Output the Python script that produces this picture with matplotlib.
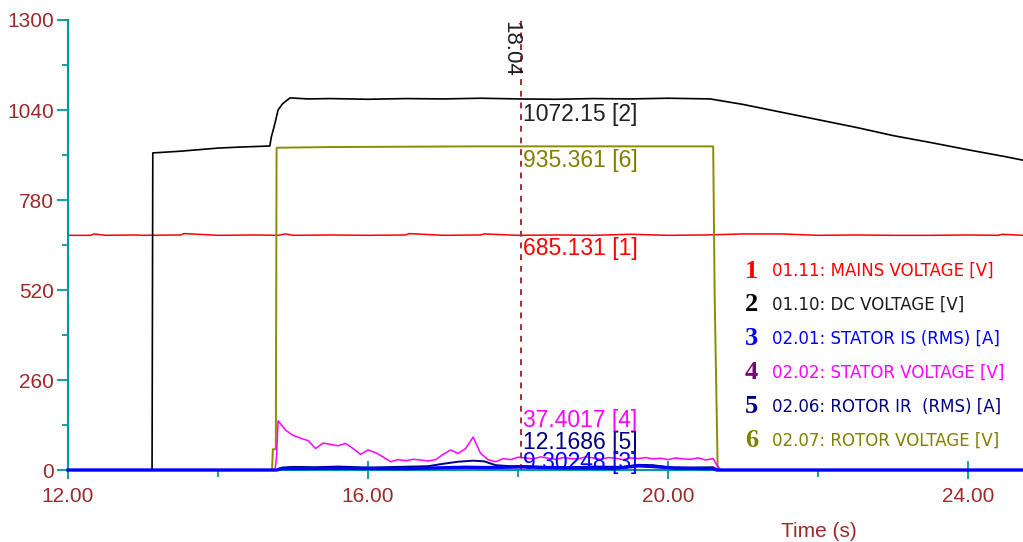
import matplotlib
matplotlib.use("Agg")
import matplotlib.pyplot as plt
from matplotlib.ticker import MultipleLocator, FormatStrFormatter

# 01.11 mains voltage [V]
mains_t = [12.0, 12.3, 12.35, 12.5, 12.9, 13.0, 13.5, 13.55, 14.0, 14.5, 14.8, 14.9,
           15.0, 15.5, 16.0, 16.5, 16.55, 17.0, 17.5, 17.55, 18.0, 18.5, 19.0, 19.5,
           20.0, 20.5, 21.0, 21.5, 22.0, 22.5, 23.0, 23.5, 24.0, 24.4, 24.45, 24.73]
mains_v = [678, 678, 682, 678, 679, 678, 679, 683, 678, 679, 678, 682,
           678, 679, 678, 679, 683, 678, 679, 682, 678, 679, 678, 681,
           678, 679, 682, 682, 678, 679, 678, 678, 679, 678, 681, 678]

# 01.10 DC voltage [V]
dc_t = [12.0, 13.12, 13.13, 13.5, 14.0, 14.3, 14.69, 14.71, 14.73, 14.76, 14.80, 14.86,
        14.96, 15.2, 15.5, 16.0, 16.5, 17.0, 17.5, 18.0, 18.5, 19.0, 19.5, 20.0,
        20.56, 21.0, 21.5, 22.0, 22.5, 23.0, 23.5, 24.0, 24.5, 24.73]
dc_v = [0, 0, 916, 921, 930, 933, 936, 962, 978, 1003, 1040, 1058,
        1075, 1072, 1073, 1071, 1073, 1072, 1074, 1072, 1071, 1073, 1072, 1074,
        1072, 1056, 1034, 1012, 990, 966, 946, 925, 905, 895]

# 02.01 stator IS (RMS) [A]
si_t = [12.0, 14.78, 14.85, 15.5, 16.5, 17.3, 17.6, 18.04, 18.6, 19.3, 19.6, 19.8,
        20.1, 20.6, 20.65, 24.73]
si_v = [0, 0, 4, 5, 4, 8, 7, 9, 6, 5, 12, 10, 5, 4, 0, 0]

# 02.02 stator voltage [V]
sv_t = [12.0, 14.76, 14.78, 14.8, 14.9, 15.0, 15.1, 15.2, 15.3, 15.4, 15.5, 15.6,
        15.7, 15.8, 15.9, 16.0, 16.1, 16.2, 16.3, 16.4, 16.5, 16.6, 16.7, 16.8,
        16.9, 17.0, 17.1, 17.2, 17.3, 17.4, 17.5, 17.6, 17.7, 17.8, 17.9, 18.0,
        18.1, 18.2, 18.3, 18.4, 18.5, 18.6, 18.7, 18.8, 18.9, 19.0, 19.1, 19.2,
        19.3, 19.4, 19.5, 19.6, 19.7, 19.8, 19.9, 20.0, 20.1, 20.2, 20.3, 20.4,
        20.5, 20.6, 20.65, 20.7, 24.73]
sv_v = [0, 0, 40, 142, 115, 100, 92, 85, 62, 78, 74, 70,
        77, 62, 45, 58, 50, 38, 24, 30, 27, 31, 29, 26,
        30, 45, 58, 48, 62, 95, 48, 30, 24, 33, 30, 37,
        35, 32, 38, 34, 31, 36, 33, 32, 38, 35, 31, 36,
        34, 30, 35, 33, 36, 32, 34, 30, 35, 32, 31, 35,
        29, 33, 14, 0, 0]

# 02.06 rotor IR (RMS) [A]
ri_t = [12.0, 14.78, 14.85, 15.0, 15.3, 15.6, 16.0, 16.4, 16.8, 17.0, 17.2, 17.4,
        17.55, 17.7, 17.9, 18.04, 18.3, 18.7, 19.0, 19.4, 19.6, 19.8, 20.0, 20.3,
        20.6, 20.65, 24.73]
ri_v = [0, 0, 7, 9, 8, 10, 7, 9, 11, 18, 24, 27,
        25, 14, 11, 12, 9, 8, 10, 9, 15, 14, 8, 7,
        8, 0, 0]

# 02.07 rotor voltage [V]
rv_t = [12.0, 14.72, 14.73, 14.77, 14.78, 15.5, 16.5, 17.5, 18.5, 19.5, 20.60, 20.62,
        20.66, 24.73]
rv_v = [0, 0, 60, 60, 931, 933, 934, 935, 935, 935, 935, 500, 0, 0]

legend_nums = ["1", "2", "3", "4", "5", "6"]
legend_text = ["01.11: MAINS VOLTAGE [V]", "01.10: DC VOLTAGE [V]",
               "02.01: STATOR IS (RMS) [A]", "02.02: STATOR VOLTAGE [V]",
               "02.06: ROTOR IR  (RMS) [A]", "02.07: ROTOR VOLTAGE [V]"]
num_colors = ["#ff0000", "#000000", "#0000ff", "#800080", "#000080", "#808000"]
txt_colors = ["#ff0000", "#1a1a1a", "#0000ff", "#ff00ff", "#000080", "#808000"]

cursor_t = 18.04
cursor_vals = ["1072.15 [2]", "935.361 [6]", "685.131 [1]",
               "37.4017 [4]", "12.1686 [5]", "9.30248 [3]"]

teal = "#009999"
dred = "#9b2a2a"

fig = plt.figure(figsize=(10.23, 5.42), dpi=100)
ax = fig.add_axes([0.0665, 0.1328, 0.9335, 0.8303])

ax.plot(mains_t, mains_v, color="#ff0000", lw=1.1)
ax.plot(dc_t, dc_v, color="#000000", lw=1.2)
ax.plot(rv_t, rv_v, color="#8c8c00", lw=1.4)
ax.plot(sv_t, sv_v, color="#ff00ff", lw=1.1)
ax.plot(ri_t, ri_v, color="#000080", lw=1.4)
ax.plot(si_t, si_v, color="#0000ff", lw=2.4, clip_on=False, zorder=5)

ax.axvline(cursor_t, color="#a03030", lw=1.4, ls=(0, (3, 3)))

ax.set_xlim(12, 24.73)
ax.set_ylim(0, 1300)

for s in ["top", "right"]:
    ax.spines[s].set_visible(False)
ax.spines["left"].set_color(teal)
ax.spines["bottom"].set_color(teal)
ax.spines["left"].set_linewidth(1.5)
ax.spines["bottom"].set_linewidth(1.5)

ax.xaxis.set_major_locator(MultipleLocator(4))
ax.xaxis.set_minor_locator(MultipleLocator(2))
ax.xaxis.set_major_formatter(FormatStrFormatter("%.2f"))
ax.yaxis.set_major_locator(MultipleLocator(260))
ax.yaxis.set_minor_locator(MultipleLocator(130))

ax.tick_params(axis="x", which="major", direction="inout", length=13, width=1.3,
               color=teal, labelcolor=dred, labelsize=15, pad=6)
ax.tick_params(axis="x", which="minor", direction="out", length=5, width=1.3, color=teal)
ax.tick_params(axis="y", which="major", direction="out", length=8, width=1.3,
               color=teal, labelcolor=dred, labelsize=15, pad=2)
ax.tick_params(axis="y", which="minor", direction="out", length=4, width=1.3, color=teal)
for lab in ax.get_xticklabels() + ax.get_yticklabels():
    lab.set_fontfamily("Liberation Sans")

ax.set_xlabel("Time (s)", color=dred, fontsize=15, family="Liberation Sans")
ax.xaxis.set_label_coords(0.786, -0.116)

# cursor readout
ax.text(cursor_t, 1296, "18.04", rotation=-90, ha="right", va="top",
        fontsize=16, family="Liberation Sans", color="#202020")
lab_y = [1061, 926, 672, 175, 114, 56]
lab_c = ["#202020", "#808000", "#ff0000", "#ff00ff", "#000080", "#0000ff"]
for txt, yv, c in zip(cursor_vals, lab_y, lab_c):
    ax.text(cursor_t + 0.02, yv, txt, ha="left", va="top", fontsize=16.5,
            family="Liberation Sans", color=c)

# legend block
row0 = 0.5
step = 0.0627
for i in range(6):
    y = row0 - i * step
    fig.text(0.728, y, legend_nums[i], ha="left", va="center", fontsize=19,
             fontweight="bold", family="Liberation Serif", color=num_colors[i])
    fig.text(0.755, y, legend_text[i], ha="left", va="center", fontsize=12,
             family="DejaVu Sans", color=txt_colors[i])

fig.savefig("out.png", dpi=100)
